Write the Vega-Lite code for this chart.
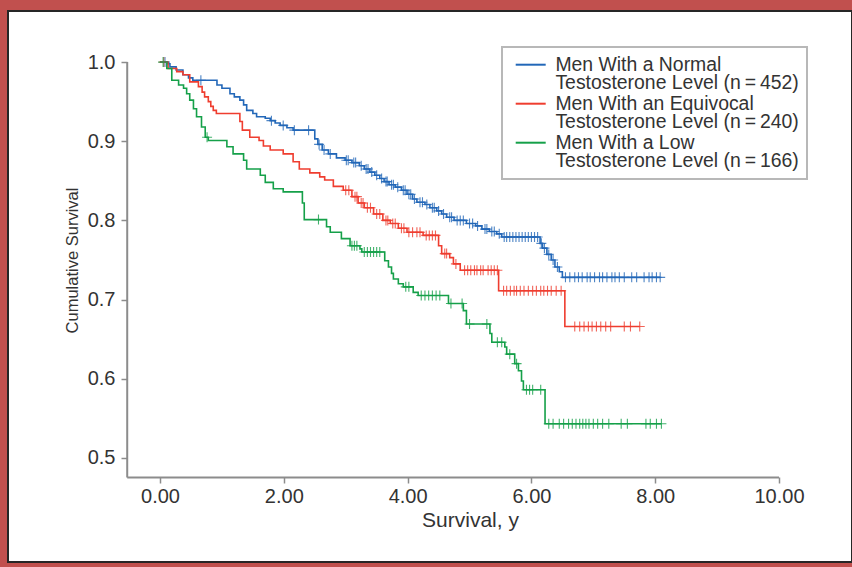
{
  "$schema": "https://vega.github.io/schema/vega-lite/v6.json",
  "width": 844,
  "height": 551,
  "autosize": {"type": "none"},
  "padding": {"left": 8, "top": 11, "right": 0, "bottom": 5},
  "background": "#c1504e",
  "config": {
    "view": {"fill": "white", "stroke": "#262626", "strokeWidth": 2},
    "font": "Liberation Sans",
    "style": {"guide-label": {"lineHeight": 18.8}},
    "legend": {"strokeWidth": 2}
  },
  "datasets": {
    "km": [
      {"g": "normal", "t": 0.00, "s": 1.000, "c": 0},
      {"g": "normal", "t": 0.08, "s": 1.000, "c": 1},
      {"g": "normal", "t": 0.12, "s": 0.998, "c": 0},
      {"g": "normal", "t": 0.16, "s": 0.994, "c": 0},
      {"g": "normal", "t": 0.26, "s": 0.990, "c": 0},
      {"g": "normal", "t": 0.37, "s": 0.984, "c": 0},
      {"g": "normal", "t": 0.46, "s": 0.980, "c": 0},
      {"g": "normal", "t": 0.53, "s": 0.977, "c": 0},
      {"g": "normal", "t": 0.66, "s": 0.977, "c": 1},
      {"g": "normal", "t": 0.92, "s": 0.971, "c": 0},
      {"g": "normal", "t": 1.00, "s": 0.967, "c": 0},
      {"g": "normal", "t": 1.13, "s": 0.960, "c": 0},
      {"g": "normal", "t": 1.20, "s": 0.956, "c": 0},
      {"g": "normal", "t": 1.29, "s": 0.952, "c": 0},
      {"g": "normal", "t": 1.35, "s": 0.946, "c": 0},
      {"g": "normal", "t": 1.40, "s": 0.939, "c": 0},
      {"g": "normal", "t": 1.50, "s": 0.935, "c": 0},
      {"g": "normal", "t": 1.56, "s": 0.931, "c": 0},
      {"g": "normal", "t": 1.70, "s": 0.929, "c": 0},
      {"g": "normal", "t": 1.78, "s": 0.926, "c": 0},
      {"g": "normal", "t": 1.80, "s": 0.926, "c": 1},
      {"g": "normal", "t": 1.86, "s": 0.923, "c": 0},
      {"g": "normal", "t": 1.94, "s": 0.920, "c": 0},
      {"g": "normal", "t": 1.99, "s": 0.920, "c": 1},
      {"g": "normal", "t": 2.05, "s": 0.917, "c": 0},
      {"g": "normal", "t": 2.15, "s": 0.914, "c": 0},
      {"g": "normal", "t": 2.17, "s": 0.914, "c": 1},
      {"g": "normal", "t": 2.40, "s": 0.914, "c": 1},
      {"g": "normal", "t": 2.50, "s": 0.903, "c": 0},
      {"g": "normal", "t": 2.55, "s": 0.896, "c": 0},
      {"g": "normal", "t": 2.57, "s": 0.896, "c": 1},
      {"g": "normal", "t": 2.62, "s": 0.889, "c": 0},
      {"g": "normal", "t": 2.65, "s": 0.889, "c": 1},
      {"g": "normal", "t": 2.72, "s": 0.884, "c": 0},
      {"g": "normal", "t": 2.75, "s": 0.884, "c": 1},
      {"g": "normal", "t": 2.85, "s": 0.879, "c": 0},
      {"g": "normal", "t": 2.99, "s": 0.876, "c": 0},
      {"g": "normal", "t": 3.01, "s": 0.876, "c": 1},
      {"g": "normal", "t": 3.04, "s": 0.876, "c": 1},
      {"g": "normal", "t": 3.10, "s": 0.873, "c": 0},
      {"g": "normal", "t": 3.13, "s": 0.873, "c": 1},
      {"g": "normal", "t": 3.16, "s": 0.873, "c": 1},
      {"g": "normal", "t": 3.22, "s": 0.869, "c": 0},
      {"g": "normal", "t": 3.25, "s": 0.869, "c": 1},
      {"g": "normal", "t": 3.30, "s": 0.865, "c": 0},
      {"g": "normal", "t": 3.33, "s": 0.865, "c": 1},
      {"g": "normal", "t": 3.36, "s": 0.865, "c": 1},
      {"g": "normal", "t": 3.39, "s": 0.861, "c": 0},
      {"g": "normal", "t": 3.42, "s": 0.861, "c": 1},
      {"g": "normal", "t": 3.47, "s": 0.857, "c": 0},
      {"g": "normal", "t": 3.50, "s": 0.857, "c": 1},
      {"g": "normal", "t": 3.55, "s": 0.853, "c": 0},
      {"g": "normal", "t": 3.58, "s": 0.853, "c": 1},
      {"g": "normal", "t": 3.62, "s": 0.849, "c": 0},
      {"g": "normal", "t": 3.65, "s": 0.849, "c": 1},
      {"g": "normal", "t": 3.67, "s": 0.849, "c": 1},
      {"g": "normal", "t": 3.70, "s": 0.845, "c": 0},
      {"g": "normal", "t": 3.74, "s": 0.845, "c": 1},
      {"g": "normal", "t": 3.77, "s": 0.845, "c": 1},
      {"g": "normal", "t": 3.80, "s": 0.842, "c": 0},
      {"g": "normal", "t": 3.84, "s": 0.842, "c": 1},
      {"g": "normal", "t": 3.90, "s": 0.838, "c": 0},
      {"g": "normal", "t": 3.93, "s": 0.838, "c": 1},
      {"g": "normal", "t": 3.96, "s": 0.838, "c": 1},
      {"g": "normal", "t": 3.99, "s": 0.833, "c": 0},
      {"g": "normal", "t": 4.02, "s": 0.833, "c": 1},
      {"g": "normal", "t": 4.05, "s": 0.833, "c": 1},
      {"g": "normal", "t": 4.08, "s": 0.827, "c": 0},
      {"g": "normal", "t": 4.11, "s": 0.827, "c": 1},
      {"g": "normal", "t": 4.15, "s": 0.823, "c": 0},
      {"g": "normal", "t": 4.20, "s": 0.823, "c": 1},
      {"g": "normal", "t": 4.24, "s": 0.823, "c": 1},
      {"g": "normal", "t": 4.28, "s": 0.820, "c": 0},
      {"g": "normal", "t": 4.31, "s": 0.820, "c": 1},
      {"g": "normal", "t": 4.36, "s": 0.816, "c": 0},
      {"g": "normal", "t": 4.40, "s": 0.816, "c": 1},
      {"g": "normal", "t": 4.43, "s": 0.816, "c": 1},
      {"g": "normal", "t": 4.47, "s": 0.812, "c": 0},
      {"g": "normal", "t": 4.50, "s": 0.812, "c": 1},
      {"g": "normal", "t": 4.55, "s": 0.808, "c": 0},
      {"g": "normal", "t": 4.58, "s": 0.808, "c": 1},
      {"g": "normal", "t": 4.63, "s": 0.804, "c": 0},
      {"g": "normal", "t": 4.68, "s": 0.804, "c": 1},
      {"g": "normal", "t": 4.71, "s": 0.804, "c": 1},
      {"g": "normal", "t": 4.75, "s": 0.800, "c": 0},
      {"g": "normal", "t": 4.80, "s": 0.800, "c": 1},
      {"g": "normal", "t": 4.85, "s": 0.800, "c": 1},
      {"g": "normal", "t": 4.90, "s": 0.800, "c": 1},
      {"g": "normal", "t": 4.95, "s": 0.796, "c": 0},
      {"g": "normal", "t": 5.00, "s": 0.796, "c": 1},
      {"g": "normal", "t": 5.05, "s": 0.796, "c": 1},
      {"g": "normal", "t": 5.10, "s": 0.793, "c": 0},
      {"g": "normal", "t": 5.13, "s": 0.793, "c": 1},
      {"g": "normal", "t": 5.20, "s": 0.789, "c": 0},
      {"g": "normal", "t": 5.25, "s": 0.789, "c": 1},
      {"g": "normal", "t": 5.28, "s": 0.789, "c": 1},
      {"g": "normal", "t": 5.32, "s": 0.786, "c": 0},
      {"g": "normal", "t": 5.36, "s": 0.786, "c": 1},
      {"g": "normal", "t": 5.40, "s": 0.786, "c": 1},
      {"g": "normal", "t": 5.44, "s": 0.783, "c": 0},
      {"g": "normal", "t": 5.48, "s": 0.783, "c": 1},
      {"g": "normal", "t": 5.52, "s": 0.779, "c": 0},
      {"g": "normal", "t": 5.56, "s": 0.779, "c": 1},
      {"g": "normal", "t": 5.60, "s": 0.779, "c": 1},
      {"g": "normal", "t": 5.65, "s": 0.779, "c": 1},
      {"g": "normal", "t": 5.70, "s": 0.779, "c": 1},
      {"g": "normal", "t": 5.75, "s": 0.779, "c": 1},
      {"g": "normal", "t": 5.80, "s": 0.779, "c": 1},
      {"g": "normal", "t": 5.85, "s": 0.779, "c": 1},
      {"g": "normal", "t": 5.90, "s": 0.779, "c": 1},
      {"g": "normal", "t": 5.95, "s": 0.779, "c": 1},
      {"g": "normal", "t": 6.00, "s": 0.779, "c": 1},
      {"g": "normal", "t": 6.05, "s": 0.779, "c": 1},
      {"g": "normal", "t": 6.10, "s": 0.779, "c": 1},
      {"g": "normal", "t": 6.14, "s": 0.771, "c": 0},
      {"g": "normal", "t": 6.16, "s": 0.771, "c": 1},
      {"g": "normal", "t": 6.18, "s": 0.765, "c": 0},
      {"g": "normal", "t": 6.21, "s": 0.765, "c": 1},
      {"g": "normal", "t": 6.25, "s": 0.757, "c": 0},
      {"g": "normal", "t": 6.28, "s": 0.757, "c": 1},
      {"g": "normal", "t": 6.32, "s": 0.750, "c": 0},
      {"g": "normal", "t": 6.35, "s": 0.750, "c": 1},
      {"g": "normal", "t": 6.38, "s": 0.741, "c": 0},
      {"g": "normal", "t": 6.42, "s": 0.741, "c": 1},
      {"g": "normal", "t": 6.45, "s": 0.735, "c": 0},
      {"g": "normal", "t": 6.50, "s": 0.728, "c": 0},
      {"g": "normal", "t": 6.55, "s": 0.728, "c": 1},
      {"g": "normal", "t": 6.62, "s": 0.728, "c": 1},
      {"g": "normal", "t": 6.70, "s": 0.728, "c": 1},
      {"g": "normal", "t": 6.76, "s": 0.728, "c": 1},
      {"g": "normal", "t": 6.82, "s": 0.728, "c": 1},
      {"g": "normal", "t": 6.90, "s": 0.728, "c": 1},
      {"g": "normal", "t": 6.95, "s": 0.728, "c": 1},
      {"g": "normal", "t": 7.02, "s": 0.728, "c": 1},
      {"g": "normal", "t": 7.10, "s": 0.728, "c": 1},
      {"g": "normal", "t": 7.15, "s": 0.728, "c": 1},
      {"g": "normal", "t": 7.22, "s": 0.728, "c": 1},
      {"g": "normal", "t": 7.30, "s": 0.728, "c": 1},
      {"g": "normal", "t": 7.35, "s": 0.728, "c": 1},
      {"g": "normal", "t": 7.42, "s": 0.728, "c": 1},
      {"g": "normal", "t": 7.50, "s": 0.728, "c": 1},
      {"g": "normal", "t": 7.62, "s": 0.728, "c": 1},
      {"g": "normal", "t": 7.70, "s": 0.728, "c": 1},
      {"g": "normal", "t": 7.82, "s": 0.728, "c": 1},
      {"g": "normal", "t": 7.90, "s": 0.728, "c": 1},
      {"g": "normal", "t": 7.95, "s": 0.728, "c": 1},
      {"g": "normal", "t": 8.02, "s": 0.728, "c": 1},
      {"g": "normal", "t": 8.08, "s": 0.728, "c": 1},

      {"g": "equivocal", "t": 0.00, "s": 1.000, "c": 0},
      {"g": "equivocal", "t": 0.06, "s": 1.000, "c": 1},
      {"g": "equivocal", "t": 0.13, "s": 0.992, "c": 0},
      {"g": "equivocal", "t": 0.27, "s": 0.988, "c": 0},
      {"g": "equivocal", "t": 0.37, "s": 0.984, "c": 0},
      {"g": "equivocal", "t": 0.48, "s": 0.975, "c": 0},
      {"g": "equivocal", "t": 0.62, "s": 0.969, "c": 0},
      {"g": "equivocal", "t": 0.68, "s": 0.962, "c": 0},
      {"g": "equivocal", "t": 0.72, "s": 0.956, "c": 0},
      {"g": "equivocal", "t": 0.78, "s": 0.950, "c": 0},
      {"g": "equivocal", "t": 0.82, "s": 0.944, "c": 0},
      {"g": "equivocal", "t": 0.86, "s": 0.939, "c": 0},
      {"g": "equivocal", "t": 0.91, "s": 0.935, "c": 0},
      {"g": "equivocal", "t": 1.29, "s": 0.925, "c": 0},
      {"g": "equivocal", "t": 1.33, "s": 0.914, "c": 0},
      {"g": "equivocal", "t": 1.45, "s": 0.905, "c": 0},
      {"g": "equivocal", "t": 1.60, "s": 0.901, "c": 0},
      {"g": "equivocal", "t": 1.67, "s": 0.894, "c": 0},
      {"g": "equivocal", "t": 1.78, "s": 0.889, "c": 0},
      {"g": "equivocal", "t": 1.99, "s": 0.884, "c": 0},
      {"g": "equivocal", "t": 2.15, "s": 0.874, "c": 0},
      {"g": "equivocal", "t": 2.25, "s": 0.865, "c": 0},
      {"g": "equivocal", "t": 2.42, "s": 0.860, "c": 0},
      {"g": "equivocal", "t": 2.58, "s": 0.855, "c": 0},
      {"g": "equivocal", "t": 2.66, "s": 0.851, "c": 0},
      {"g": "equivocal", "t": 2.80, "s": 0.843, "c": 0},
      {"g": "equivocal", "t": 2.96, "s": 0.838, "c": 0},
      {"g": "equivocal", "t": 3.00, "s": 0.838, "c": 1},
      {"g": "equivocal", "t": 3.05, "s": 0.838, "c": 1},
      {"g": "equivocal", "t": 3.10, "s": 0.830, "c": 0},
      {"g": "equivocal", "t": 3.15, "s": 0.830, "c": 1},
      {"g": "equivocal", "t": 3.18, "s": 0.830, "c": 1},
      {"g": "equivocal", "t": 3.20, "s": 0.822, "c": 0},
      {"g": "equivocal", "t": 3.25, "s": 0.822, "c": 1},
      {"g": "equivocal", "t": 3.28, "s": 0.822, "c": 1},
      {"g": "equivocal", "t": 3.30, "s": 0.816, "c": 0},
      {"g": "equivocal", "t": 3.35, "s": 0.816, "c": 1},
      {"g": "equivocal", "t": 3.40, "s": 0.816, "c": 1},
      {"g": "equivocal", "t": 3.45, "s": 0.808, "c": 0},
      {"g": "equivocal", "t": 3.50, "s": 0.808, "c": 1},
      {"g": "equivocal", "t": 3.55, "s": 0.808, "c": 1},
      {"g": "equivocal", "t": 3.60, "s": 0.800, "c": 0},
      {"g": "equivocal", "t": 3.65, "s": 0.800, "c": 1},
      {"g": "equivocal", "t": 3.68, "s": 0.800, "c": 1},
      {"g": "equivocal", "t": 3.72, "s": 0.796, "c": 0},
      {"g": "equivocal", "t": 3.76, "s": 0.796, "c": 1},
      {"g": "equivocal", "t": 3.80, "s": 0.796, "c": 1},
      {"g": "equivocal", "t": 3.85, "s": 0.790, "c": 0},
      {"g": "equivocal", "t": 3.90, "s": 0.790, "c": 1},
      {"g": "equivocal", "t": 3.94, "s": 0.790, "c": 1},
      {"g": "equivocal", "t": 3.99, "s": 0.785, "c": 0},
      {"g": "equivocal", "t": 4.02, "s": 0.785, "c": 1},
      {"g": "equivocal", "t": 4.08, "s": 0.785, "c": 1},
      {"g": "equivocal", "t": 4.15, "s": 0.785, "c": 1},
      {"g": "equivocal", "t": 4.20, "s": 0.785, "c": 1},
      {"g": "equivocal", "t": 4.25, "s": 0.781, "c": 0},
      {"g": "equivocal", "t": 4.30, "s": 0.781, "c": 1},
      {"g": "equivocal", "t": 4.35, "s": 0.781, "c": 1},
      {"g": "equivocal", "t": 4.40, "s": 0.781, "c": 1},
      {"g": "equivocal", "t": 4.45, "s": 0.781, "c": 1},
      {"g": "equivocal", "t": 4.50, "s": 0.768, "c": 0},
      {"g": "equivocal", "t": 4.55, "s": 0.758, "c": 0},
      {"g": "equivocal", "t": 4.60, "s": 0.758, "c": 1},
      {"g": "equivocal", "t": 4.63, "s": 0.758, "c": 1},
      {"g": "equivocal", "t": 4.68, "s": 0.753, "c": 0},
      {"g": "equivocal", "t": 4.74, "s": 0.745, "c": 0},
      {"g": "equivocal", "t": 4.78, "s": 0.745, "c": 1},
      {"g": "equivocal", "t": 4.85, "s": 0.737, "c": 0},
      {"g": "equivocal", "t": 4.92, "s": 0.737, "c": 1},
      {"g": "equivocal", "t": 4.97, "s": 0.737, "c": 1},
      {"g": "equivocal", "t": 5.02, "s": 0.737, "c": 1},
      {"g": "equivocal", "t": 5.08, "s": 0.737, "c": 1},
      {"g": "equivocal", "t": 5.12, "s": 0.737, "c": 1},
      {"g": "equivocal", "t": 5.18, "s": 0.737, "c": 1},
      {"g": "equivocal", "t": 5.22, "s": 0.737, "c": 1},
      {"g": "equivocal", "t": 5.30, "s": 0.737, "c": 1},
      {"g": "equivocal", "t": 5.35, "s": 0.737, "c": 1},
      {"g": "equivocal", "t": 5.40, "s": 0.737, "c": 1},
      {"g": "equivocal", "t": 5.45, "s": 0.737, "c": 1},
      {"g": "equivocal", "t": 5.47, "s": 0.711, "c": 0},
      {"g": "equivocal", "t": 5.55, "s": 0.711, "c": 1},
      {"g": "equivocal", "t": 5.60, "s": 0.711, "c": 1},
      {"g": "equivocal", "t": 5.66, "s": 0.711, "c": 1},
      {"g": "equivocal", "t": 5.72, "s": 0.711, "c": 1},
      {"g": "equivocal", "t": 5.76, "s": 0.711, "c": 1},
      {"g": "equivocal", "t": 5.82, "s": 0.711, "c": 1},
      {"g": "equivocal", "t": 5.88, "s": 0.711, "c": 1},
      {"g": "equivocal", "t": 5.95, "s": 0.711, "c": 1},
      {"g": "equivocal", "t": 6.02, "s": 0.711, "c": 1},
      {"g": "equivocal", "t": 6.08, "s": 0.711, "c": 1},
      {"g": "equivocal", "t": 6.15, "s": 0.711, "c": 1},
      {"g": "equivocal", "t": 6.20, "s": 0.711, "c": 1},
      {"g": "equivocal", "t": 6.26, "s": 0.711, "c": 1},
      {"g": "equivocal", "t": 6.32, "s": 0.711, "c": 1},
      {"g": "equivocal", "t": 6.40, "s": 0.711, "c": 1},
      {"g": "equivocal", "t": 6.48, "s": 0.711, "c": 1},
      {"g": "equivocal", "t": 6.54, "s": 0.666, "c": 0},
      {"g": "equivocal", "t": 6.70, "s": 0.666, "c": 1},
      {"g": "equivocal", "t": 6.78, "s": 0.666, "c": 1},
      {"g": "equivocal", "t": 6.85, "s": 0.666, "c": 1},
      {"g": "equivocal", "t": 6.92, "s": 0.666, "c": 1},
      {"g": "equivocal", "t": 6.98, "s": 0.666, "c": 1},
      {"g": "equivocal", "t": 7.05, "s": 0.666, "c": 1},
      {"g": "equivocal", "t": 7.12, "s": 0.666, "c": 1},
      {"g": "equivocal", "t": 7.20, "s": 0.666, "c": 1},
      {"g": "equivocal", "t": 7.28, "s": 0.666, "c": 1},
      {"g": "equivocal", "t": 7.50, "s": 0.666, "c": 1},
      {"g": "equivocal", "t": 7.60, "s": 0.666, "c": 1},
      {"g": "equivocal", "t": 7.75, "s": 0.666, "c": 1},

      {"g": "low", "t": 0.00, "s": 1.000, "c": 0},
      {"g": "low", "t": 0.05, "s": 1.000, "c": 1},
      {"g": "low", "t": 0.11, "s": 0.992, "c": 0},
      {"g": "low", "t": 0.19, "s": 0.977, "c": 0},
      {"g": "low", "t": 0.30, "s": 0.971, "c": 0},
      {"g": "low", "t": 0.38, "s": 0.967, "c": 0},
      {"g": "low", "t": 0.43, "s": 0.960, "c": 0},
      {"g": "low", "t": 0.48, "s": 0.952, "c": 0},
      {"g": "low", "t": 0.54, "s": 0.941, "c": 0},
      {"g": "low", "t": 0.59, "s": 0.931, "c": 0},
      {"g": "low", "t": 0.67, "s": 0.918, "c": 0},
      {"g": "low", "t": 0.73, "s": 0.905, "c": 0},
      {"g": "low", "t": 0.76, "s": 0.905, "c": 1},
      {"g": "low", "t": 0.78, "s": 0.901, "c": 0},
      {"g": "low", "t": 1.08, "s": 0.893, "c": 0},
      {"g": "low", "t": 1.18, "s": 0.884, "c": 0},
      {"g": "low", "t": 1.35, "s": 0.876, "c": 0},
      {"g": "low", "t": 1.40, "s": 0.865, "c": 0},
      {"g": "low", "t": 1.62, "s": 0.857, "c": 0},
      {"g": "low", "t": 1.70, "s": 0.848, "c": 0},
      {"g": "low", "t": 1.83, "s": 0.840, "c": 0},
      {"g": "low", "t": 1.99, "s": 0.836, "c": 0},
      {"g": "low", "t": 2.30, "s": 0.822, "c": 0},
      {"g": "low", "t": 2.33, "s": 0.801, "c": 0},
      {"g": "low", "t": 2.56, "s": 0.801, "c": 1},
      {"g": "low", "t": 2.69, "s": 0.792, "c": 0},
      {"g": "low", "t": 2.75, "s": 0.785, "c": 0},
      {"g": "low", "t": 2.93, "s": 0.777, "c": 0},
      {"g": "low", "t": 3.07, "s": 0.768, "c": 0},
      {"g": "low", "t": 3.10, "s": 0.768, "c": 1},
      {"g": "low", "t": 3.14, "s": 0.768, "c": 1},
      {"g": "low", "t": 3.18, "s": 0.768, "c": 1},
      {"g": "low", "t": 3.23, "s": 0.764, "c": 0},
      {"g": "low", "t": 3.26, "s": 0.760, "c": 0},
      {"g": "low", "t": 3.30, "s": 0.760, "c": 1},
      {"g": "low", "t": 3.35, "s": 0.760, "c": 1},
      {"g": "low", "t": 3.40, "s": 0.760, "c": 1},
      {"g": "low", "t": 3.45, "s": 0.760, "c": 1},
      {"g": "low", "t": 3.50, "s": 0.760, "c": 1},
      {"g": "low", "t": 3.55, "s": 0.760, "c": 1},
      {"g": "low", "t": 3.63, "s": 0.749, "c": 0},
      {"g": "low", "t": 3.69, "s": 0.741, "c": 0},
      {"g": "low", "t": 3.74, "s": 0.733, "c": 0},
      {"g": "low", "t": 3.77, "s": 0.726, "c": 0},
      {"g": "low", "t": 3.85, "s": 0.720, "c": 0},
      {"g": "low", "t": 3.93, "s": 0.716, "c": 0},
      {"g": "low", "t": 3.97, "s": 0.716, "c": 1},
      {"g": "low", "t": 4.02, "s": 0.716, "c": 1},
      {"g": "low", "t": 4.09, "s": 0.709, "c": 0},
      {"g": "low", "t": 4.17, "s": 0.705, "c": 0},
      {"g": "low", "t": 4.22, "s": 0.705, "c": 1},
      {"g": "low", "t": 4.28, "s": 0.705, "c": 1},
      {"g": "low", "t": 4.34, "s": 0.705, "c": 1},
      {"g": "low", "t": 4.40, "s": 0.705, "c": 1},
      {"g": "low", "t": 4.46, "s": 0.705, "c": 1},
      {"g": "low", "t": 4.52, "s": 0.705, "c": 1},
      {"g": "low", "t": 4.66, "s": 0.695, "c": 0},
      {"g": "low", "t": 4.70, "s": 0.695, "c": 1},
      {"g": "low", "t": 4.88, "s": 0.695, "c": 1},
      {"g": "low", "t": 4.90, "s": 0.686, "c": 0},
      {"g": "low", "t": 4.95, "s": 0.669, "c": 0},
      {"g": "low", "t": 5.00, "s": 0.669, "c": 1},
      {"g": "low", "t": 5.28, "s": 0.669, "c": 1},
      {"g": "low", "t": 5.33, "s": 0.657, "c": 0},
      {"g": "low", "t": 5.36, "s": 0.646, "c": 0},
      {"g": "low", "t": 5.45, "s": 0.646, "c": 1},
      {"g": "low", "t": 5.52, "s": 0.646, "c": 1},
      {"g": "low", "t": 5.57, "s": 0.640, "c": 0},
      {"g": "low", "t": 5.60, "s": 0.631, "c": 0},
      {"g": "low", "t": 5.65, "s": 0.631, "c": 1},
      {"g": "low", "t": 5.73, "s": 0.619, "c": 0},
      {"g": "low", "t": 5.76, "s": 0.619, "c": 1},
      {"g": "low", "t": 5.79, "s": 0.610, "c": 0},
      {"g": "low", "t": 5.84, "s": 0.597, "c": 0},
      {"g": "low", "t": 5.87, "s": 0.586, "c": 0},
      {"g": "low", "t": 5.92, "s": 0.586, "c": 1},
      {"g": "low", "t": 5.97, "s": 0.586, "c": 1},
      {"g": "low", "t": 6.02, "s": 0.586, "c": 1},
      {"g": "low", "t": 6.15, "s": 0.586, "c": 1},
      {"g": "low", "t": 6.22, "s": 0.543, "c": 0},
      {"g": "low", "t": 6.28, "s": 0.543, "c": 1},
      {"g": "low", "t": 6.35, "s": 0.543, "c": 1},
      {"g": "low", "t": 6.45, "s": 0.543, "c": 1},
      {"g": "low", "t": 6.52, "s": 0.543, "c": 1},
      {"g": "low", "t": 6.60, "s": 0.543, "c": 1},
      {"g": "low", "t": 6.66, "s": 0.543, "c": 1},
      {"g": "low", "t": 6.72, "s": 0.543, "c": 1},
      {"g": "low", "t": 6.78, "s": 0.543, "c": 1},
      {"g": "low", "t": 6.83, "s": 0.543, "c": 1},
      {"g": "low", "t": 6.88, "s": 0.543, "c": 1},
      {"g": "low", "t": 6.93, "s": 0.543, "c": 1},
      {"g": "low", "t": 7.00, "s": 0.543, "c": 1},
      {"g": "low", "t": 7.07, "s": 0.543, "c": 1},
      {"g": "low", "t": 7.15, "s": 0.543, "c": 1},
      {"g": "low", "t": 7.25, "s": 0.543, "c": 1},
      {"g": "low", "t": 7.45, "s": 0.543, "c": 1},
      {"g": "low", "t": 7.55, "s": 0.543, "c": 1},
      {"g": "low", "t": 7.85, "s": 0.543, "c": 1},
      {"g": "low", "t": 7.92, "s": 0.543, "c": 1},
      {"g": "low", "t": 8.02, "s": 0.543, "c": 1},
      {"g": "low", "t": 8.10, "s": 0.543, "c": 1}
    ]
  },
  "layer": [
    {
      "data": {"name": "km"},
      "mark": {"type": "line", "interpolate": "step-after", "strokeWidth": 1.6},
      "encoding": {
        "x": {
          "field": "t", "type": "quantitative",
          "scale": {"domain": [-2.456, 11.179], "nice": false, "zero": false},
          "axis": {
            "values": [0, 2, 4, 6, 8, 10], "format": ".2f",
            "domain": false, "grid": false, "offset": -85,
            "tickSize": 6, "tickColor": "#8c8c8c", "tickWidth": 1.5,
            "labelFontSize": 20, "labelColor": "#333333", "labelPadding": 3,
            "labelFlush": false,
            "title": "Survival, y", "titleFontSize": 21, "titleFontWeight": "normal",
            "titleColor": "#333333", "titleX": 462, "titleY": 49,
            "titleBaseline": "alphabetic", "titleAlign": "center"
          }
        },
        "y": {
          "field": "s", "type": "quantitative",
          "scale": {"domain": [0.36835, 1.06456], "nice": false, "zero": false},
          "axis": {
            "values": [0.5, 0.6, 0.7, 0.8, 0.9, 1.0], "format": ".1f",
            "domain": false, "grid": false, "offset": -119,
            "tickSize": 6, "tickColor": "#8c8c8c", "tickWidth": 1.5,
            "labelFontSize": 20, "labelColor": "#333333", "labelPadding": 6,
            "labelFlush": false,
            "title": "Cumulative Survival",
            "titleFont": "Liberation Sans",
            "titleFontSize": 16.5, "titleFontWeight": "normal", "titleColor": "#333333",
            "titleX": -50, "titleY": 249, "titleBaseline": "alphabetic", "titleAlign": "center"
          }
        },
        "color": {
          "field": "g", "type": "nominal",
          "scale": {"domain": ["normal", "equivocal", "low"], "range": ["#2267b8", "#ef3d2f", "#15a049"]},
          "legend": {
            "title": null, "orient": "none", "legendX": 494, "legendY": 36,
            "padding": 8, "strokeColor": "#b8b8b8",
            "symbolType": "M-3,0H3", "symbolSize": 100, "symbolStrokeWidth": 2,
            "symbolOffset": 11,
            "labelFontSize": 19.4, "labelColor": "#333333", "labelOffset": 15,
            "labelLimit": 400, "rowPadding": 0, "labelBaseline": "middle",
            "labelExpr": "datum.value == 'normal' ? ['Men With a Normal', 'Testosterone Level (n\u2009=\u2009452)'] : datum.value == 'equivocal' ? ['Men With an Equivocal', 'Testosterone Level (n\u2009=\u2009240)'] : ['Men With a Low', 'Testosterone Level (n\u2009=\u2009166)']"
          }
        }
      }
    },
    {
      "data": {"name": "km"},
      "transform": [{"filter": "datum.c == 1"}],
      "mark": {"type": "point", "shape": "M-1,0H1M0,-1V1", "size": 100, "strokeWidth": 1.1, "filled": false, "opacity": 0.8},
      "encoding": {
        "x": {"field": "t", "type": "quantitative"},
        "y": {"field": "s", "type": "quantitative"},
        "color": {"field": "g", "type": "nominal", "legend": null}
      }
    },
    {
      "data": {"values": [{}]},
      "mark": {"type": "rule", "color": "#8c8c8c", "strokeWidth": 2},
      "encoding": {
        "x": {"datum": -0.53, "type": "quantitative"},
        "y": {"datum": 0.475, "type": "quantitative"},
        "y2": {"datum": 1.0}
      }
    },
    {
      "data": {"values": [{}]},
      "mark": {"type": "rule", "color": "#8c8c8c", "strokeWidth": 2},
      "encoding": {
        "x": {"datum": -0.53, "type": "quantitative"},
        "x2": {"datum": 10},
        "y": {"datum": 0.475, "type": "quantitative"}
      }
    }
  ]
}
